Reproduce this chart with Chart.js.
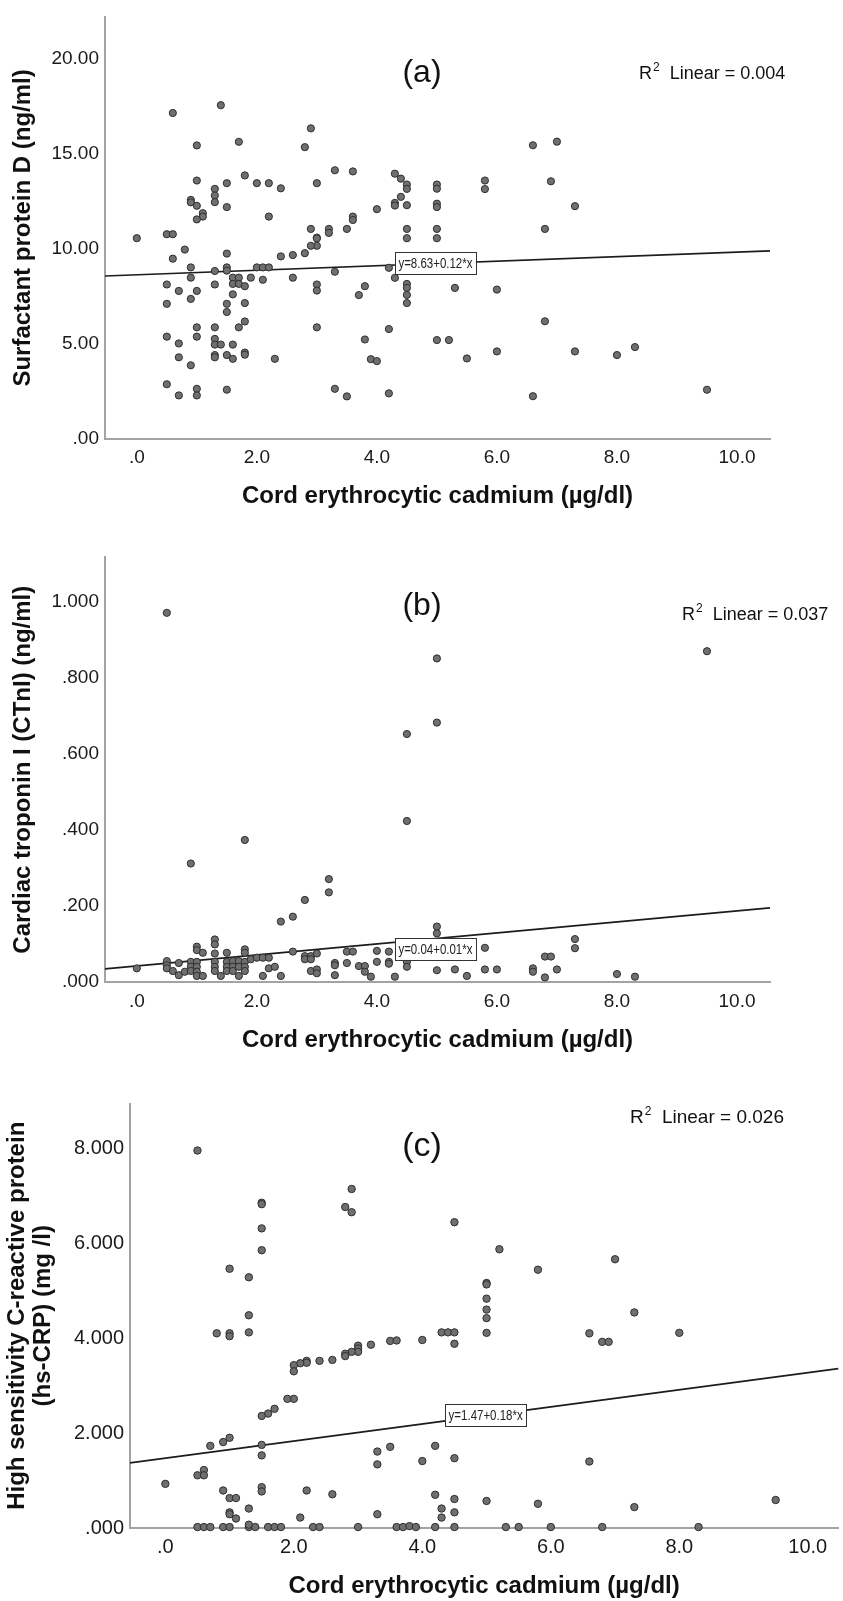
<!DOCTYPE html>
<html><head><meta charset="utf-8">
<script src="https://cdn.jsdelivr.net/npm/chart.js@4"></script>
<style>
html,body{margin:0;padding:0;background:#fff;}
#wrap{position:relative;width:843px;height:1601px;overflow:hidden;background:#fff;}
canvas{position:absolute;left:0;}
</style></head><body>
<div id="wrap">
<canvas id="cA" width="843" height="525" style="top:0px;width:843px;height:525px"></canvas>
<canvas id="cB" width="843" height="515" style="top:540px;width:843px;height:515px"></canvas>
<canvas id="cC" width="843" height="541" style="top:1060px;width:843px;height:541px"></canvas>
</div>
<script>
// ---------- data ----------
const xTickValues = [0, 2, 4, 6, 8, 10];
const xTickLabels = ['.0', '2.0', '4.0', '6.0', '8.0', '10.0'];

const yTickValuesA = [0, 5, 10, 15, 20];
const yTickLabelsA = ['.00', '5.00', '10.00', '15.00', '20.00'];
const yTickValuesB = [0, 0.2, 0.4, 0.6, 0.8, 1.0];
const yTickLabelsB = ['.000', '.200', '.400', '.600', '.800', '1.000'];
const yTickValuesC = [0, 2, 4, 6, 8];
const yTickLabelsC = ['.000', '2.000', '4.000', '6.000', '8.000'];

const xTitle = 'Cord erythrocytic cadmium (µg/dl)';
const yTitleA = 'Surfactant protein D (ng/ml)';
const yTitleB = 'Cardiac troponin I (CTnI) (ng/ml)';
const yTitleC = ['High sensitivity C-reactive protein', '(hs-CRP) (mg /l)'];

// panel (a): cadmium vs SP-D
const cadA = [0.0,0.6,1.4,2.9,2.8,1.0,1.7,3.3,3.6,4.3,4.4,4.5,4.5,5.0,5.0,1.8,1.0,1.5,2.0,2.2,2.4,3.0,1.3,1.3,1.3,0.9,0.9,1.0,1.5,1.1,1.1,1.0,2.2,4.0,4.3,4.3,4.4,4.5,5.0,5.0,3.6,3.6,3.5,3.2,3.2,2.9,3.0,3.0,3.0,2.9,2.8,2.6,2.4,4.5,4.5,5.0,5.0,0.5,0.6,0.8,0.6,1.5,0.9,1.3,1.5,1.5,2.0,2.1,2.2,0.5,0.9,0.7,1.0,1.3,1.6,1.7,1.6,1.7,1.8,1.9,2.1,2.6,3.3,3.0,3.0,3.8,3.7,4.2,4.3,4.5,4.5,4.5,4.5,5.3,0.5,0.9,1.6,1.5,1.5,1.8,1.0,1.3,1.7,1.8,3.0,4.2,0.5,1.0,0.7,1.3,1.3,1.4,1.6,0.7,1.3,1.3,1.5,1.6,1.8,1.8,0.9,2.3,3.8,3.9,4.0,5.0,5.2,0.5,0.7,1.0,1.0,1.5,3.3,3.5,4.2,6.6,7.0,5.8,5.8,6.9,7.3,6.8,6.0,6.8,5.5,6.0,7.3,8.0,8.3,6.6,9.5];
const spdA = [10.56,17.16,17.57,16.35,15.36,15.45,15.64,14.14,14.08,13.96,13.7,13.39,13.16,13.39,13.17,13.87,13.6,13.46,13.46,13.46,13.19,13.46,13.16,12.81,12.46,12.58,12.45,12.27,12.2,11.88,11.7,11.55,11.7,12.09,12.42,12.28,12.74,12.3,12.38,12.2,11.7,11.52,11.05,11.05,10.84,11.05,10.59,10.55,10.16,10.16,9.77,9.67,9.6,11.05,10.56,11.05,10.56,10.77,10.77,9.96,9.48,9.75,9.02,8.83,9.02,8.85,9.02,9.02,9.02,8.12,8.48,7.78,7.78,8.12,8.48,8.48,8.15,8.15,8.03,8.48,8.37,8.48,8.79,8.12,7.8,8.03,7.56,9.0,8.47,8.15,7.94,7.57,7.14,7.94,7.1,7.36,7.6,7.1,6.67,7.14,5.86,5.86,5.86,6.17,5.86,5.77,5.37,5.37,5.01,5.25,4.95,4.95,4.95,4.28,4.4,4.28,4.4,4.2,4.53,4.42,3.86,4.2,5.22,4.18,4.08,5.19,5.19,2.86,2.27,2.62,2.27,2.57,2.62,2.22,2.38,15.46,15.65,13.6,13.15,13.56,12.25,11.05,7.85,6.18,4.22,4.59,4.59,4.4,4.82,2.23,2.57];

// panel (b): cadmium vs cTnI
const cadB = [0.5,5.0,9.5,5.0,4.5,4.5,1.8,0.9,3.2,3.2,2.8,2.6,2.4,5.0,5.0,0.0,0.5,0.5,0.5,0.6,0.7,0.7,0.8,0.9,0.9,0.9,1.0,1.0,1.1,1.0,1.0,1.0,1.0,1.1,1.3,1.3,1.3,1.3,1.3,1.3,1.4,1.5,1.5,1.5,1.5,1.6,1.6,1.6,1.7,1.7,1.7,1.8,1.8,1.8,1.8,1.8,1.9,2.0,2.1,2.2,2.2,2.1,2.3,2.4,2.6,2.8,2.8,2.9,2.9,3.0,2.9,3.0,3.0,3.3,3.3,3.3,3.5,3.6,3.5,3.7,3.8,3.8,3.9,4.0,4.0,4.2,4.2,4.2,4.3,4.5,4.5,4.5,5.0,5.2,5.3,5.5,5.8,5.8,6.0,6.6,6.6,6.8,6.9,6.8,7.0,7.3,7.3,8.0,8.3];
const ctniB = [0.972,0.852,0.871,0.683,0.653,0.424,0.374,0.312,0.271,0.236,0.216,0.172,0.159,0.146,0.128,0.036,0.055,0.044,0.036,0.029,0.05,0.018,0.027,0.053,0.04,0.029,0.093,0.084,0.077,0.053,0.04,0.027,0.016,0.016,0.112,0.099,0.075,0.053,0.04,0.029,0.016,0.077,0.053,0.04,0.029,0.055,0.04,0.029,0.055,0.04,0.016,0.086,0.077,0.053,0.04,0.029,0.06,0.064,0.064,0.064,0.036,0.016,0.04,0.016,0.08,0.068,0.06,0.068,0.06,0.075,0.029,0.033,0.023,0.05,0.044,0.018,0.08,0.08,0.05,0.042,0.042,0.027,0.014,0.082,0.053,0.08,0.053,0.048,0.014,0.06,0.053,0.04,0.031,0.066,0.033,0.016,0.09,0.033,0.033,0.036,0.027,0.067,0.067,0.012,0.033,0.113,0.089,0.021,0.014];

// panel (c): cadmium vs hs-CRP
const cadC = [0.5,2.9,2.8,2.9,1.5,1.5,4.5,1.5,1.5,1.0,1.3,1.3,0.8,1.0,1.0,1.3,4.3,4.4,4.5,4.5,4.0,3.5,3.6,3.2,3.0,3.0,3.0,2.9,2.8,2.8,2.6,2.4,2.2,2.2,2.1,2.0,2.0,2.0,1.9,1.7,1.6,1.5,1.5,1.5,1.0,0.9,0.7,0.6,0.5,0.6,0.0,0.9,1.5,1.5,1.0,1.1,1.0,1.0,1.1,1.3,2.2,2.6,2.1,3.3,3.3,3.5,3.3,4.0,4.2,4.5,4.2,4.3,4.3,4.5,4.5,0.5,0.6,0.7,0.9,1.0,1.3,1.3,1.4,1.6,1.7,1.8,2.3,2.4,3.0,3.6,3.7,3.8,3.9,4.2,4.5,5.3,5.5,6.0,6.8,8.3,5.2,5.8,7.0,5.0,5.0,5.0,5.0,5.0,5.0,7.3,6.6,6.8,6.9,8.0,6.6,5.0,5.8,7.3,9.5];
const crpC = [7.95,7.14,6.76,6.65,6.85,6.82,6.44,6.31,5.85,5.46,5.28,4.48,4.1,4.1,4.04,4.12,4.12,4.12,4.12,3.88,3.96,3.94,3.95,3.86,3.84,3.78,3.71,3.71,3.67,3.62,3.54,3.52,3.52,3.48,3.47,3.43,3.3,2.72,2.72,2.51,2.41,2.36,1.75,1.53,1.9,1.81,1.73,1.22,1.11,1.11,0.93,0.79,0.86,0.77,0.63,0.63,0.33,0.29,0.2,0.41,0.79,0.71,0.22,1.61,1.34,1.71,0.29,1.41,1.73,1.47,0.7,0.41,0.22,0.61,0.33,0.02,0.02,0.02,0.02,0.02,0.02,0.07,0.02,0.02,0.02,0.02,0.02,0.02,0.02,0.02,0.02,0.04,0.02,0.02,0.02,0.02,0.02,0.02,0.02,0.02,5.87,5.44,5.66,5.16,5.13,4.83,4.6,4.42,4.11,4.54,4.1,3.92,3.92,4.11,1.4,0.57,0.51,0.44,0.59];

// fit lines (intercept, slope) and labels
const fitA = [8.63, 0.12];
const fitB = [0.042, 0.0145];
const fitC = [1.47, 0.18];
const eqLabels = ['y=8.63+0.12*x', 'y=0.04+0.01*x', 'y=1.47+0.18*x'];
const r2Values = ['0.004', '0.037', '0.026'];
const panelLetters = ['(a)', '(b)', '(c)'];

// ---------- drawing ----------
const FONT = "'Liberation Sans', Arial, sans-serif";

const annotPlugin = {
  id: 'annot',
  afterDatasetsDraw(chart, args, o) {
    const ctx = chart.ctx;
    const xs = chart.scales.x, ys = chart.scales.y;
    ctx.save();
    // equation label box
    const bx = xs.getPixelForValue(o.boxX);
    const by = ys.getPixelForValue(o.boxY);
    ctx.font = o.eqSize + 'px ' + FONT;
    const sx = 0.82;
    const tw = ctx.measureText(o.eq).width * sx;
    const bw = tw + 7, bh = 22;
    ctx.fillStyle = '#ffffff';
    ctx.fillRect(bx, by - bh / 2, bw, bh);
    ctx.strokeStyle = '#333333';
    ctx.lineWidth = 1;
    ctx.strokeRect(Math.round(bx) + 0.5, Math.round(by - bh / 2) + 0.5, Math.round(bw), bh);
    ctx.fillStyle = '#222222';
    ctx.textBaseline = 'middle';
    ctx.textAlign = 'left';
    ctx.save();
    ctx.translate(bx + 3.5, by + 1);
    ctx.scale(sx, 1);
    ctx.fillText(o.eq, 0, 0);
    ctx.restore();
    // panel letter
    ctx.fillStyle = '#111111';
    ctx.font = o.letterSize + 'px ' + FONT;
    ctx.textAlign = 'center';
    ctx.textBaseline = 'middle';
    ctx.fillText(o.letter, o.letterX, o.letterY);
    // R squared text
    ctx.textAlign = 'left';
    ctx.font = o.r2Size + 'px ' + FONT;
    let x = o.r2X;
    ctx.fillText('R', x, o.r2Y);
    x += ctx.measureText('R').width + 1;
    ctx.font = Math.round(o.r2Size * 0.65) + 'px ' + FONT;
    ctx.fillText('2', x, o.r2Y - o.r2Size * 0.33);
    x += ctx.measureText('2').width;
    ctx.font = o.r2Size + 'px ' + FONT;
    ctx.fillText('  Linear = ' + o.r2, x, o.r2Y);
    ctx.restore();
  }
};

function makePanel(id, p) {
  const pts = p.xs.map((v, i) => ({x: v, y: p.ys[i]}));
  const line = [
    {x: p.xMin, y: p.fit[0] + p.fit[1] * p.xMin},
    {x: p.xMax, y: p.fit[0] + p.fit[1] * p.xMax}
  ];
  new Chart(document.getElementById(id), {
    type: 'scatter',
    data: {
      datasets: [
        {data: pts, pointRadius: p.radius, pointHoverRadius: p.radius,
         backgroundColor: '#6f6f6f', borderColor: '#2e2e2e', borderWidth: 1, clip: false},
        {data: line, showLine: true, pointRadius: 0, borderColor: '#1c1c1c',
         borderWidth: 1.7, fill: false, clip: false}
      ]
    },
    options: {
      responsive: false, animation: false, devicePixelRatio: 1, events: [],
      layout: {padding: {left: 0, top: p.padTop, right: p.padRight, bottom: 0}},
      plugins: {
        legend: {display: false}, tooltip: {enabled: false}, title: {display: false},
        annot: p.annot
      },
      scales: {
        x: {
          type: 'linear', min: p.xMin, max: p.xMax,
          afterBuildTicks: s => { s.ticks = xTickValues.map(v => ({value: v})); },
          afterFit: s => { s.height = p.xHeight; },
          ticks: {callback: (v, i) => xTickLabels[i], autoSkip: false, maxRotation: 0,
                  font: {family: FONT, size: p.tickSize}, color: '#1a1a1a', padding: p.xTickPad},
          grid: {display: false, drawTicks: false},
          border: {display: true, color: '#a3a3a3', width: 2},
          title: {display: true, text: xTitle, color: '#111111',
                  font: {family: FONT, size: p.titleSize, weight: 'bold'},
                  padding: {top: 0, bottom: p.xTitlePad}}
        },
        y: {
          type: 'linear', min: 0, max: p.yMax,
          afterBuildTicks: s => { s.ticks = p.yTicks.map(v => ({value: v})); },
          afterFit: s => { s.width = p.yWidth; },
          ticks: {callback: (v, i) => p.yLabels[i], autoSkip: false,
                  font: {family: FONT, size: p.tickSize}, color: '#1a1a1a', padding: p.yTickPad},
          grid: {display: false, drawTicks: false},
          border: {display: true, color: '#a3a3a3', width: 2},
          title: {display: true, text: p.yTitle, color: '#111111',
                  font: {family: FONT, size: p.titleSize, weight: 'bold', lineHeight: 1.1},
                  padding: {top: p.yTitlePad, bottom: 0}}
        }
      }
    },
    plugins: [annotPlugin]
  });
}

makePanel('cA', {
  xs: cadA, ys: spdA, fit: fitA, xMin: -0.53, xMax: 10.55, yMax: 22.2,
  yTicks: yTickValuesA, yLabels: yTickLabelsA, yTitle: yTitleA,
  padTop: 14, padRight: 73, xHeight: 86.5, yWidth: 105,
  tickSize: 19, titleSize: 24, xTickPad: 8, xTitlePad: 14, yTickPad: 6, yTitlePad: 10,
  radius: 3.6,
  annot: {boxX: 4.3, boxY: 9.24, eq: eqLabels[0], eqSize: 14,
          letter: panelLetters[0], letterX: 422, letterY: 73, letterSize: 32,
          r2: r2Values[0], r2X: 639, r2Y: 74, r2Size: 18}
});

makePanel('cB', {
  xs: cadB, ys: ctniB, fit: fitB, xMin: -0.53, xMax: 10.55, yMax: 1.118,
  yTicks: yTickValuesB, yLabels: yTickLabelsB, yTitle: yTitleB,
  padTop: 17, padRight: 73, xHeight: 73, yWidth: 105,
  tickSize: 19, titleSize: 24, xTickPad: 8, xTitlePad: 0, yTickPad: 6, yTitlePad: 10,
  radius: 3.6,
  annot: {boxX: 4.3, boxY: 0.087, eq: eqLabels[1], eqSize: 14,
          letter: panelLetters[1], letterX: 422, letterY: 66, letterSize: 32,
          r2: r2Values[1], r2X: 682, r2Y: 75, r2Size: 18}
});

makePanel('cC', {
  xs: cadC, ys: crpC, fit: fitC, xMin: -0.55, xMax: 10.475, yMax: 8.94,
  yTicks: yTickValuesC, yLabels: yTickLabelsC, yTitle: yTitleC,
  padTop: 43.5, padRight: 0, xHeight: 73, yWidth: 130,
  tickSize: 20, titleSize: 24, xTickPad: 7, xTitlePad: 0, yTickPad: 6, yTitlePad: 4,
  radius: 3.7,
  annot: {boxX: 4.355, boxY: 2.38, eq: eqLabels[2], eqSize: 14,
          letter: panelLetters[2], letterX: 422, letterY: 87, letterSize: 34,
          r2: r2Values[2], r2X: 630, r2Y: 58, r2Size: 19}
});
</script>
</body></html>
